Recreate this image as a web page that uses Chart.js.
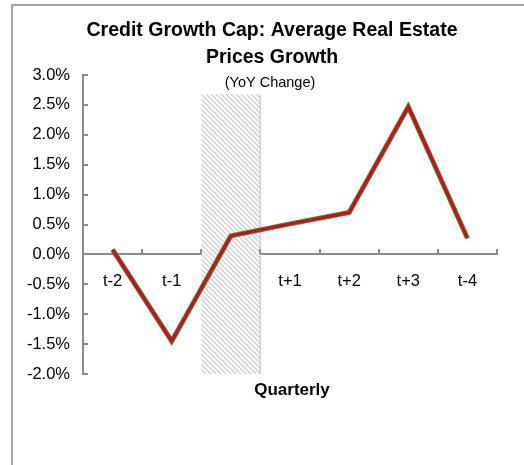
<!DOCTYPE html>
<html>
<head>
<meta charset="utf-8">
<script src="https://cdn.jsdelivr.net/npm/chart.js@4/dist/chart.umd.min.js"></script>
<style>
  html, body { margin: 0; padding: 0; background: #fff; overflow: hidden; }
  .frame {
    position: absolute;
    left: 11px;
    top: 4px;
    border-left: 2px solid #a3a3a3;
    border-top: 2px solid #a3a3a3;
    width: 560px;
    height: 500px;
  }
  canvas { display: block; }
</style>
</head>
<body>
<div class="frame">
  <canvas id="chart" width="518" height="459"></canvas>
</div>
<script>
const quarters = ["t-2", "t-1", "", "t+1", "t+2", "t+3", "t-4"];
const priceGrowth = [0.08, -1.45, 0.31, 0.51, 0.70, 2.47, 0.27];
// shaded quarter when the cap was introduced: [from, to] in %
const capPeriod = [null, null, [-2.0, 2.68], null, null, null, null];
const yTicks = { min: -2.0, max: 3.0, step: 0.5 };

const FONT = "'Liberation Sans', Arial, sans-serif";
const AXIS_GREY = "#8c8c8c";

function hatchPattern(ctx) {
  const s = 5;
  const tile = document.createElement("canvas");
  tile.width = s;
  tile.height = s;
  const t = tile.getContext("2d");
  t.fillStyle = "#fff";
  t.fillRect(0, 0, s, s);
  t.strokeStyle = "#d0d0d0";
  t.lineWidth = 1.4;
  t.beginPath();
  for (const c of [-s, 0, s]) {
    t.moveTo(-1, -1 + c);
    t.lineTo(s + 1, s + 1 + c);
  }
  t.stroke();
  return ctx.createPattern(tile, "repeat");
}

// inward tick marks plus the two free-standing captions
const extras = {
  id: "extras",
  afterDraw(chart) {
    const { ctx, chartArea, scales } = chart;
    const x = scales.x, y = scales.y;
    ctx.save();
    ctx.strokeStyle = AXIS_GREY;
    ctx.lineWidth = 2;
    ctx.beginPath();
    for (let v = yTicks.min; v <= yTicks.max + 1e-9; v += yTicks.step) {
      const py = Math.round(y.getPixelForValue(v));
      ctx.moveTo(chartArea.left, py);
      ctx.lineTo(chartArea.left + 5, py);
    }
    const step = x.getPixelForValue(1) - x.getPixelForValue(0);
    const zero = Math.round(y.getPixelForValue(0));
    for (let i = 0; i <= quarters.length; i++) {
      const px = Math.round(x.getPixelForValue(0) - step / 2 + i * step);
      ctx.moveTo(px, zero);
      ctx.lineTo(px, zero - 5);
    }
    ctx.stroke();

    ctx.fillStyle = "#000";
    ctx.textAlign = "center";
    ctx.textBaseline = "middle";
    ctx.font = "14.5px " + FONT;
    ctx.fillText("(YoY Change)", 257, 77);
    ctx.font = "bold 17px " + FONT;
    ctx.fillText("Quarterly", (chartArea.left + chartArea.right) / 2 + 2, chartArea.bottom + 16);
    ctx.restore();
  }
};

const ctx = document.getElementById("chart").getContext("2d");

new Chart(ctx, {
  type: "line",
  data: {
    labels: quarters,
    datasets: [
      {
        data: priceGrowth,
        borderColor: "#e60012",
        borderWidth: 3,
        borderJoinStyle: "miter",
        pointRadius: 0,
        tension: 0,
        order: 0
      },
      {
        data: priceGrowth,
        borderColor: "#1f9d3f",
        borderWidth: 5,
        borderJoinStyle: "miter",
        pointRadius: 0,
        tension: 0,
        order: 1
      },
      {
        type: "bar",
        data: capPeriod,
        backgroundColor: hatchPattern(ctx),
        borderColor: "#a8a8a8",
        borderWidth: { left: 0, top: 0, bottom: 0, right: 1 },
        borderSkipped: false,
        barPercentage: 1,
        categoryPercentage: 1,
        order: 2
      }
    ]
  },
  options: {
    responsive: false,
    animation: false,
    layout: { padding: { left: 0, top: 0, right: 0, bottom: 91 } },
    plugins: {
      legend: { display: false },
      tooltip: { enabled: false },
      title: {
        display: true,
        text: ["Credit Growth Cap: Average Real Estate", "Prices Growth"],
        color: "#000",
        font: { family: FONT, size: 19.5, weight: "bold", lineHeight: "27px" },
        padding: { top: 11, bottom: 4 }
      }
    },
    scales: {
      x: {
        type: "category",
        offset: true,
        position: { y: 0 },
        grid: { display: false, drawTicks: false },
        border: { display: true, color: AXIS_GREY, width: 2 },
        ticks: {
          color: "#000",
          padding: 17,
          maxRotation: 0,
          autoSkip: false,
          font: { family: FONT, size: 16.5 }
        }
      },
      y: {
        min: yTicks.min,
        max: yTicks.max,
        afterFit(scale) { scale.width = 70; },
        grid: { display: false, drawTicks: false },
        border: { display: true, color: AXIS_GREY, width: 2 },
        ticks: {
          stepSize: yTicks.step,
          color: "#000",
          padding: 13,
          font: { family: FONT, size: 16.5 },
          callback: v => v.toFixed(1) + "%"
        }
      },
      // empty right-hand margin, so the title stays centred on the whole frame
      spacer: {
        type: "linear",
        position: "right",
        afterFit(scale) { scale.width = 34; },
        grid: { display: false, drawTicks: false },
        border: { display: false },
        ticks: { display: false }
      }
    }
  },
  plugins: [extras]
});
</script>
</body>
</html>
